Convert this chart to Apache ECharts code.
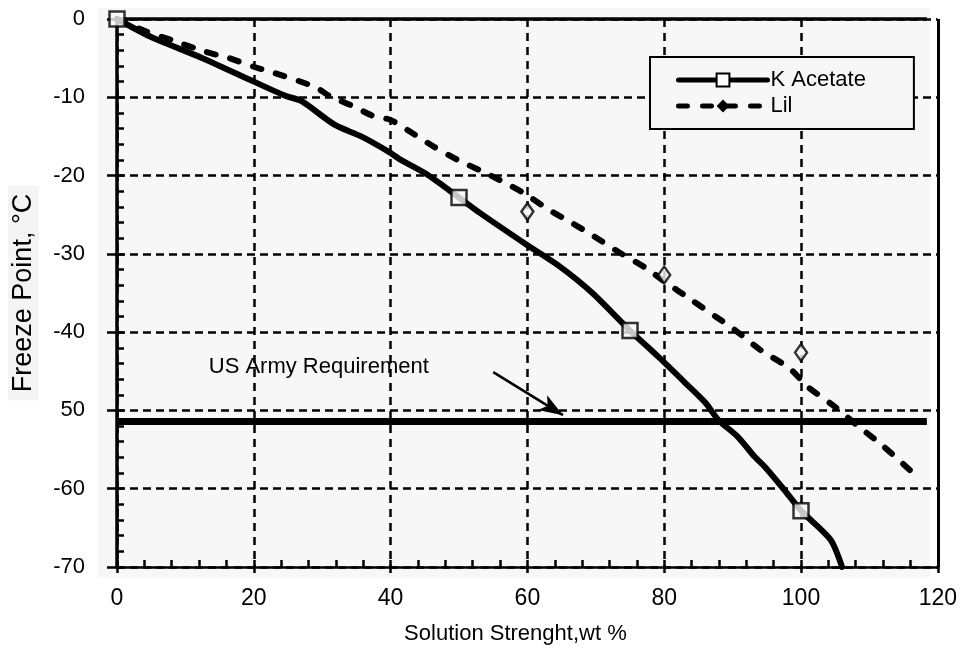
<!DOCTYPE html>
<html>
<head>
<meta charset="utf-8">
<script src="https://cdn.jsdelivr.net/npm/echarts@6/dist/echarts.min.js"></script>
<style>
  html, body { margin: 0; padding: 0; background: #ffffff; }
  #chart { width: 960px; height: 660px; }
</style>
</head>
<body>
<div id="chart"></div>
<script>
// Freeze point (°C) against solution strength (wt %)
var kAcetateX = [0, 5, 12.5, 20, 24.6, 27, 31.8, 35.7, 39.8, 41.5, 45.4, 50, 53.1, 60, 64.7, 69.5, 75, 79.2, 83.1, 86, 87.9, 90.8, 93.2, 94.7, 97.6, 100, 104.3, 106];
var kAcetateY = [0, -2.3, -5, -8, -9.8, -10.5, -13.5, -15, -17, -18, -19.9, -22.8, -24.8, -28.9, -31.6, -35, -39.8, -43.2, -46.5, -49, -51.2, -53.4, -55.9, -57.2, -60.2, -62.8, -66.5, -70];
var kAcetateMarkX = [0, 50, 75, 100];
var kAcetateMarkY = [0, -22.8, -39.8, -62.8];

var lilX = [0, 4, 8, 13, 16.4, 20, 22.7, 29, 31, 32.8, 34.7, 37.2, 40, 42.5, 46.3, 49.8, 53, 56, 59.6, 63, 66.6, 69.8, 73.4, 77.3, 80, 84, 87.5, 90.3, 94.1, 98.3, 101, 104.6, 108.5, 111.8, 115.9, 117];
var lilY = [0, -1.5, -2.7, -4.2, -5, -6.1, -6.8, -8.7, -9.8, -10.5, -11.2, -12.3, -12.9, -14.2, -16.3, -18, -19.3, -20.6, -22.3, -24.3, -26.1, -27.8, -29.8, -31.8, -33.5, -35.9, -38, -39.7, -42.3, -44.6, -47, -49.3, -52.1, -54.4, -57.6, -58.5];
var lilMarkX = [60, 80, 100];
var lilMarkY = [-24.6, -32.7, -42.6];

// US Army requirement line, its arrow and caption
var armyX = [0, 118.4];
var armyY = [-51.4, -51.4];
var arrowFrom = [55, -45.1];
var arrowTo = [65.2, -50.6];
var armyLabelAt = [29.5, -44.4];
var armyLabel = 'US Army Requirement';

// zero line along the top of the plot, frame line at the right
var zeroX = [0, 118.4];
var zeroY = [0, 0];
var frameX = 120;

// axis ticks and their labels
var xTickValues = [0, 20, 40, 60, 80, 100, 120];
var xTickLabels = ['0', '20', '40', '60', '80', '100', '120'];
var yTickValues = [0, -10, -20, -30, -40, -50, -60, -70];
var yTickLabels = ['0', '-10', '-20', '-30', '-40', '50', '-60', '-70'];

var seriesNames = ['K Acetate', 'Lil'];

function pairs(xs, ys) {
  return xs.map(function (x, i) { return [x, ys[i]]; });
}
function tickLabel(values, labels) {
  return function (v) {
    var i = values.indexOf(v);
    return i < 0 ? '' : labels[i];
  };
}

var SANS = "'Liberation Sans', Arial, Helvetica, sans-serif";
var PLOT_BG = '#f7f7f7';

// plot rectangle
var GRID = { left: 113, right: 19, top: 19, bottom: 93 };
var GRID_H = 660 - GRID.top - GRID.bottom;

var chart = echarts.init(document.getElementById('chart'), null, { renderer: 'canvas' });

var option = {
  backgroundColor: '#ffffff',
  animation: false,
  graphic: [{
    type: 'rect',
    z: -100,
    silent: true,
    shape: { x: 98, y: 8, width: 832, height: 570 },
    style: { fill: PLOT_BG }
  }],
  grid: { left: GRID.left, right: GRID.right, top: GRID.top, bottom: GRID.bottom, containLabel: false },
  legend: {
    data: seriesNames,
    orient: 'vertical',
    left: 650,
    top: 57,
    padding: [12, 48, 12, 26],
    itemGap: 4,
    itemWidth: 89,
    itemHeight: 16,
    backgroundColor: PLOT_BG,
    borderColor: '#000',
    borderWidth: 2,
    borderRadius: 0,
    lineStyle: { width: 5 },
    textStyle: { color: '#000', fontSize: 22, fontFamily: SANS, lineHeight: 22, padding: [0, 0, 0, -2] }
  },
  xAxis: [{
    type: 'value',
    min: 0, max: 120, interval: 20,
    position: 'bottom',
    name: 'Solution Strenght,wt %',
    nameLocation: 'middle',
    nameGap: 56,
    nameTextStyle: { color: '#000', fontSize: 22, fontFamily: SANS, padding: [0, 24, 0, 0] },
    axisLine: { show: true, onZero: false, lineStyle: { color: '#000', width: 2.5 } },
    axisTick: { show: true, inside: false, length: 6, lineStyle: { color: '#000', width: 2.5 } },
    axisLabel: { margin: 20, color: '#000', fontSize: 23, fontFamily: SANS, formatter: tickLabel(xTickValues, xTickLabels) },
    splitLine: { show: true, lineStyle: { color: '#000', width: 2.5, type: [8, 6] } }
  }, {
    // minor ticks pointing up from the bottom axis line
    type: 'value',
    min: 0, max: 120, interval: 4,
    position: 'top',
    offset: -GRID_H,
    axisLine: { show: false },
    axisTick: { show: true, inside: false, length: 7, lineStyle: { color: '#000', width: 2.5 } },
    axisLabel: { show: false },
    splitLine: { show: false }
  }],
  yAxis: [{
    type: 'value',
    min: -70, max: 0, interval: 10,
    position: 'left',
    name: 'Freeze Point, °C',
    nameLocation: 'middle',
    nameRotate: 90,
    nameGap: 78,
    nameTextStyle: { color: '#000', fontSize: 27, fontFamily: SANS, backgroundColor: '#f4f4f4', padding: [2, 8, 2, 8] },
    axisLine: { show: true, onZero: false, lineStyle: { color: '#000', width: 3.5 } },
    axisTick: { show: true, inside: false, length: 10, lineStyle: { color: '#000', width: 2.5 } },
    axisLabel: { margin: 32, color: '#000', fontSize: 22, fontFamily: SANS, formatter: tickLabel(yTickValues, yTickLabels) },
    splitLine: { show: true, lineStyle: { color: '#000', width: 2.5, type: [8, 5] } }
  }, {
    // minor ticks pointing right from the left axis line
    type: 'value',
    min: -70, max: 0, interval: 2,
    position: 'left',
    offset: 0,
    axisLine: { show: false },
    axisTick: { show: true, inside: true, length: 7, lineStyle: { color: '#000', width: 2.5 } },
    axisLabel: { show: false },
    splitLine: { show: false }
  }],
  series: [
    {
      name: 'zero line',
      type: 'line',
      clip: false,
      data: pairs(zeroX, zeroY),
      showSymbol: false,
      symbol: 'none',
      lineStyle: { color: '#000', width: 3.5 },
      silent: true,
      markLine: {
        silent: true,
        symbol: 'none',
        label: { show: false },
        lineStyle: { color: '#000', width: 3, type: 'solid' },
        data: [{ xAxis: frameX }]
      }
    },
    {
      name: 'US Army Requirement',
      type: 'line',
      clip: false,
      data: pairs(armyX, armyY),
      showSymbol: false,
      symbol: 'none',
      lineStyle: { color: '#000', width: 7 },
      silent: true,
      markLine: {
        silent: true,
        symbol: ['none', 'arrow'],
        symbolSize: [13, 24],
        label: { show: false },
        lineStyle: { color: '#000', width: 2.5, type: 'solid' },
        data: [[{ coord: arrowFrom }, { coord: arrowTo }]]
      },
      markPoint: {
        silent: true,
        symbol: 'rect',
        symbolSize: 1,
        itemStyle: { color: 'rgba(0,0,0,0)' },
        label: { show: true, position: 'inside', color: '#000', fontSize: 22, fontFamily: SANS, formatter: armyLabel },
        data: [{ coord: armyLabelAt }]
      }
    },
    {
      name: 'Lil',
      type: 'line',
      data: pairs(lilX, lilY),
      showSymbol: false,
      symbol: 'diamond',
      smooth: 0.25,
      itemStyle: { color: '#000' },
      lineStyle: { color: '#000', width: 6, type: [9, 15], cap: 'round' },
      z: 3
    },
    {
      name: 'K Acetate',
      type: 'line',
      data: pairs(kAcetateX, kAcetateY),
      showSymbol: false,
      symbol: 'emptyRect',
      smooth: 0.25,
      itemStyle: { color: '#000' },
      lineStyle: { color: '#000', width: 6, cap: 'round' },
      z: 4
    },
    {
      name: 'Lil points',
      type: 'scatter',
      data: pairs(lilMarkX, lilMarkY),
      symbol: 'diamond',
      symbolSize: [12, 17],
      itemStyle: { color: PLOT_BG, borderColor: '#000', borderWidth: 2.5 },
      z: 5
    },
    {
      name: 'K Acetate points',
      type: 'scatter',
      data: pairs(kAcetateMarkX, kAcetateMarkY),
      symbol: 'rect',
      symbolSize: 15,
      itemStyle: { color: PLOT_BG, borderColor: '#000', borderWidth: 2.5 },
      z: 5
    }
  ]
};

chart.setOption(option);
</script>
</body>
</html>
